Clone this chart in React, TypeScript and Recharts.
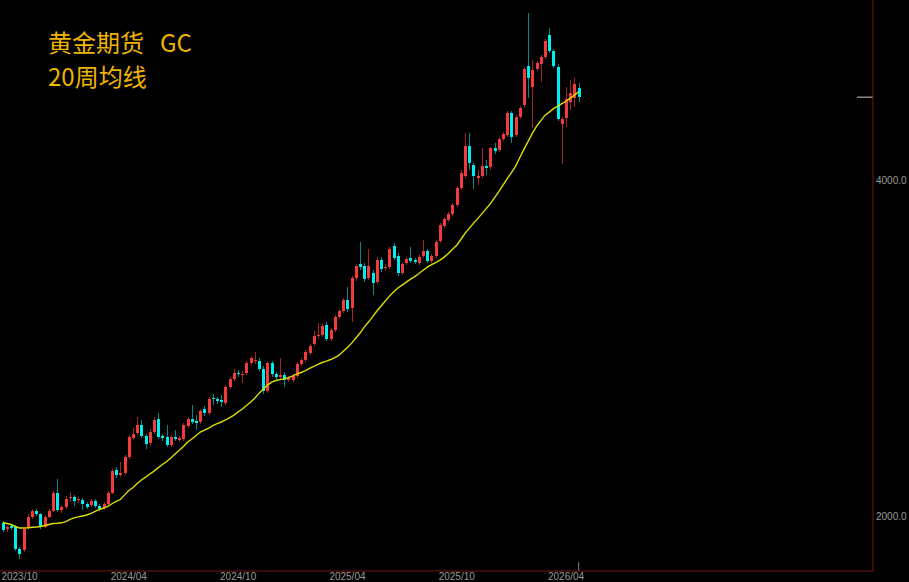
import { ComposedChart, Bar, Line, XAxis, YAxis, ReferenceLine } from 'recharts';

// weekly GC bars (index 0 = mid Sep 2023)
const opens = [
  1971, 1947, 1959, 1955, 1868, 1864, 1951, 1996, 2021, 2008,
  1955, 1996, 2021, 2097, 2025, 2038, 2076, 2080, 2067, 2067,
  2050, 2046, 2063, 2042, 2033, 2050, 2097, 2199, 2176, 2185,
  2259, 2349, 2373, 2413, 2359, 2325, 2378, 2443, 2359, 2354,
  2315, 2354, 2339, 2344, 2408, 2443, 2433, 2428, 2494, 2473,
  2551, 2545, 2540, 2525, 2609, 2653, 2686, 2675, 2686, 2742,
  2753, 2753, 2709, 2588, 2742, 2681, 2664, 2675, 2647, 2647,
  2670, 2737, 2759, 2799, 2852, 2899, 2905, 2965, 2881, 2935,
  3015, 3053, 3122, 3071, 3267, 3363, 3349, 3267, 3301, 3240,
  3391, 3335, 3342, 3490, 3419, 3301, 3370, 3405, 3391, 3370,
  3419, 3454, 3384, 3419, 3526, 3637, 3682, 3728, 3798, 3933,
  4033, 4290, 4125, 4017, 4033, 4117, 4108, 4272, 4255, 4352,
  4389, 4592, 4389, 4554, 4669, 5059, 4845, 5028, 5080, 5154,
  5393, 5218, 5049, 4489, 4545, 4698, 4736, 4835,
];
const closes = [
  1943, 1955, 1951, 1868, 1849, 1947, 1996, 2021, 2008, 1955,
  1996, 2021, 2097, 2025, 2038, 2072, 2080, 2063, 2072, 2050,
  2038, 2063, 2042, 2029, 2050, 2097, 2194, 2176, 2185, 2259,
  2354, 2369, 2413, 2359, 2320, 2378, 2438, 2354, 2349, 2315,
  2354, 2344, 2349, 2413, 2443, 2428, 2423, 2484, 2473, 2545,
  2545, 2535, 2530, 2609, 2653, 2686, 2681, 2681, 2742, 2770,
  2759, 2709, 2588, 2742, 2681, 2664, 2675, 2647, 2658, 2670,
  2737, 2759, 2805, 2840, 2899, 2905, 2959, 2881, 2935, 3015,
  3053, 3122, 3065, 3267, 3349, 3342, 3260, 3349, 3234, 3391,
  3328, 3342, 3468, 3405, 3301, 3363, 3398, 3384, 3377, 3412,
  3454, 3384, 3419, 3519, 3645, 3690, 3728, 3798, 3933, 4058,
  4290, 4142, 4033, 4033, 4117, 4100, 4272, 4246, 4352, 4398,
  4592, 4371, 4554, 4640, 5028, 4935, 5018, 5091, 5154, 5327,
  5218, 5059, 4535, 4535, 4727, 4786, 4875, 4746,
];
const highs = [
  1980, 1959, 1967, 1963, 1876, 1951, 2008, 2029, 2029, 2012,
  2004, 2029, 2106, 2159, 2046, 2085, 2102, 2089, 2080, 2076,
  2059, 2072, 2072, 2050, 2059, 2106, 2203, 2213, 2236, 2268,
  2364, 2398, 2453, 2438, 2369, 2393, 2453, 2473, 2369, 2413,
  2364, 2388, 2359, 2423, 2453, 2514, 2463, 2494, 2509, 2556,
  2572, 2556, 2567, 2620, 2664, 2709, 2703, 2697, 2753, 2782,
  2805, 2770, 2725, 2753, 2753, 2692, 2770, 2692, 2670, 2681,
  2748, 2770, 2816, 2852, 2929, 2978, 2971, 2984, 2947, 3027,
  3065, 3135, 3207, 3281, 3363, 3519, 3370, 3468, 3321, 3412,
  3412, 3363, 3483, 3511, 3440, 3377, 3412, 3483, 3405, 3426,
  3533, 3468, 3433, 3533, 3660, 3705, 3743, 3814, 3950, 4083,
  4407, 4407, 4142, 4083, 4272, 4168, 4281, 4317, 4371, 4416,
  4611, 4611, 4573, 4659, 5049, 5645, 5122, 5112, 5175, 5349,
  5471, 5240, 5080, 4554, 4845, 4915, 4935, 4885,
];
const lows = [
  1935, 1935, 1943, 1860, 1830, 1856, 1943, 1988, 2000, 1947,
  1951, 1992, 2017, 2017, 2012, 2029, 2059, 2042, 2055, 2025,
  2029, 2038, 2033, 2021, 2025, 2042, 2093, 2163, 2167, 2176,
  2250, 2339, 2364, 2349, 2297, 2315, 2369, 2344, 2334, 2306,
  2306, 2334, 2330, 2334, 2398, 2418, 2388, 2418, 2458, 2463,
  2514, 2519, 2504, 2514, 2598, 2642, 2664, 2631, 2675, 2731,
  2737, 2697, 2572, 2577, 2664, 2647, 2647, 2609, 2636, 2636,
  2658, 2725, 2748, 2787, 2840, 2887, 2893, 2869, 2869, 2923,
  3002, 3040, 3046, 2984, 3247, 3321, 3240, 3254, 3155, 3227,
  3308, 3314, 3328, 3391, 3281, 3287, 3356, 3370, 3363, 3356,
  3405, 3370, 3370, 3405, 3511, 3622, 3667, 3713, 3782, 3917,
  4017, 4083, 3925, 3958, 4017, 4041, 4083, 4220, 4237, 4334,
  4371, 4317, 4371, 4535, 4650, 4736, 4453, 5007, 4895, 5133,
  5197, 5039, 4517, 4134, 4462, 4621, 4650, 4698,
];
// 20-week moving average, as drawn
const ma20 = [
  1973, 1969, 1965, 1957, 1951, 1951, 1952, 1954, 1955, 1957,
  1961, 1965, 1969, 1970, 1972, 1977, 1986, 1992, 1996, 2000,
  2004, 2011, 2019, 2027, 2033, 2040, 2051, 2061, 2069, 2089,
  2108, 2121, 2139, 2154, 2167, 2181, 2194, 2210, 2224, 2238,
  2254, 2273, 2290, 2308, 2330, 2344, 2361, 2378, 2388, 2398,
  2410, 2420, 2428, 2438, 2450, 2463, 2479, 2494, 2512, 2530,
  2551, 2577, 2598, 2620, 2636, 2645, 2650, 2655, 2661, 2670,
  2681, 2689, 2700, 2712, 2723, 2734, 2745, 2753, 2762, 2773,
  2787, 2810, 2831, 2857, 2887, 2917, 2953, 2984, 3018, 3053,
  3084, 3116, 3148, 3177, 3201, 3220, 3240, 3260, 3277, 3298,
  3321, 3342, 3360, 3374, 3391, 3412, 3437, 3468, 3497, 3540,
  3585, 3622, 3660, 3694, 3732, 3771, 3810, 3857, 3905, 3958,
  4012, 4062, 4117, 4190, 4263, 4334, 4407, 4471, 4522, 4573,
  4602, 4635, 4659, 4684, 4706, 4736, 4766, 4800,
];

const tickIdx = [4, 30, 56, 82, 108, 134];
const tickLabels = ['2023/10', '2024/04', '2024/10', '2025/04', '2025/10', '2026/04'];
const priceTicks = [2000, 4000];

const UP = '#f23b3b';
const DOWN = '#00eeee';
const UP_WICK = '#a52222';
const DOWN_WICK = '#008a8a';
const AXIS = '#7a1212';
const X_DOMAIN = [-0.642, 207];
const Y_DOMAIN = [1785.3, 5799.6];

const data = opens.map((o, i) => ({
  i,
  o,
  c: closes[i],
  ma: ma20[i],
  body: [Math.min(o, closes[i]), Math.max(o, closes[i])],
  wick: [lows[i], highs[i]],
}));
const last = data[data.length - 1];

function Body(props: any) {
  const { x, y, width, height, payload } = props;
  const up = payload.c >= payload.o;
  const left = Math.round(x + width / 2 - 1.5);
  const top = Math.round(Math.min(y, y + height));
  const bottom = Math.round(Math.max(y, y + height));
  return <rect x={left} y={top} width={3} height={Math.max(1, bottom - top)} fill={up ? UP : DOWN} />;
}

function Wick(props: any) {
  const { x, y, width, height, payload } = props;
  const up = payload.c >= payload.o;
  const left = Math.round(x + width / 2 - 1.5) + 1;
  const top = Math.round(Math.min(y, y + height));
  const bottom = Math.round(Math.max(y, y + height));
  return <rect x={left} y={top} width={1} height={Math.max(1, bottom - top)} fill={up ? UP_WICK : DOWN_WICK} />;
}

export default function App() {
  return (
    <div
      style={{
        position: 'absolute',
        left: 0,
        top: 0,
        width: 909,
        height: 582,
        background: '#000',
        overflow: 'hidden',
      }}
    >
      <ComposedChart width={909} height={582} data={data} margin={{ top: 0, right: 0, bottom: 0, left: 0 }}>
        <XAxis
          xAxisId="a"
          dataKey="i"
          type="number"
          domain={X_DOMAIN}
          allowDataOverflow
          ticks={tickIdx}
          interval={0}
          tickFormatter={(v) => tickLabels[tickIdx.indexOf(v)]}
          height={11}
          tickSize={0}
          tickMargin={2}
          axisLine={{ stroke: AXIS }}
          tick={{ fill: '#9a9a9a', fontSize: 10, fontFamily: '"Liberation Sans", Arial' }}
        />
        <XAxis xAxisId="w" dataKey="i" type="number" domain={X_DOMAIN} allowDataOverflow hide />
        <YAxis
          orientation="right"
          scale="log"
          domain={Y_DOMAIN}
          allowDataOverflow
          ticks={priceTicks}
          interval={0}
          width={36}
          tickSize={0}
          tickMargin={3}
          tickFormatter={(v) => Number(v).toFixed(1)}
          axisLine={{ stroke: AXIS }}
          tick={{ fill: '#9a9a9a', fontSize: 10, fontFamily: '"Liberation Sans", Arial', textAnchor: 'start' }}
        />
        <Bar xAxisId="w" dataKey="wick" barSize={1} shape={<Wick />} isAnimationActive={false} />
        <Bar xAxisId="a" dataKey="body" barSize={3} shape={<Body />} isAnimationActive={false} />
        <Line
          xAxisId="a"
          dataKey="ma"
          type="linear"
          stroke="#dede00"
          strokeWidth={1.4}
          dot={false}
          activeDot={false}
          isAnimationActive={false}
        />
        <ReferenceLine
          xAxisId="a"
          segment={[{ x: 203.2, y: last.c }, { x: 207, y: last.c }]}
          stroke="#cfcfcf"
          ifOverflow="visible"
        />
        <ReferenceLine
          xAxisId="a"
          segment={[{ x: last.i, y: 1785.3 }, { x: last.i, y: 1818 }]}
          stroke="#8a8a8a"
          ifOverflow="visible"
        />
      </ComposedChart>
      <div
        style={{
          position: 'absolute',
          left: 48,
          top: 24,
          color: '#efb400',
          fontSize: 24,
          fontFamily: '"Noto Sans CJK SC"',
          whiteSpace: 'nowrap',
        }}
      >
        <span>黄金期货</span>
        <span style={{ marginLeft: 16 }}>GC</span>
      </div>
      <div
        style={{
          position: 'absolute',
          left: 48,
          top: 58,
          color: '#efb400',
          fontSize: 24,
          fontFamily: '"Noto Sans CJK SC"',
          whiteSpace: 'nowrap',
        }}
      >
        20周均线
      </div>
    </div>
  );
}
